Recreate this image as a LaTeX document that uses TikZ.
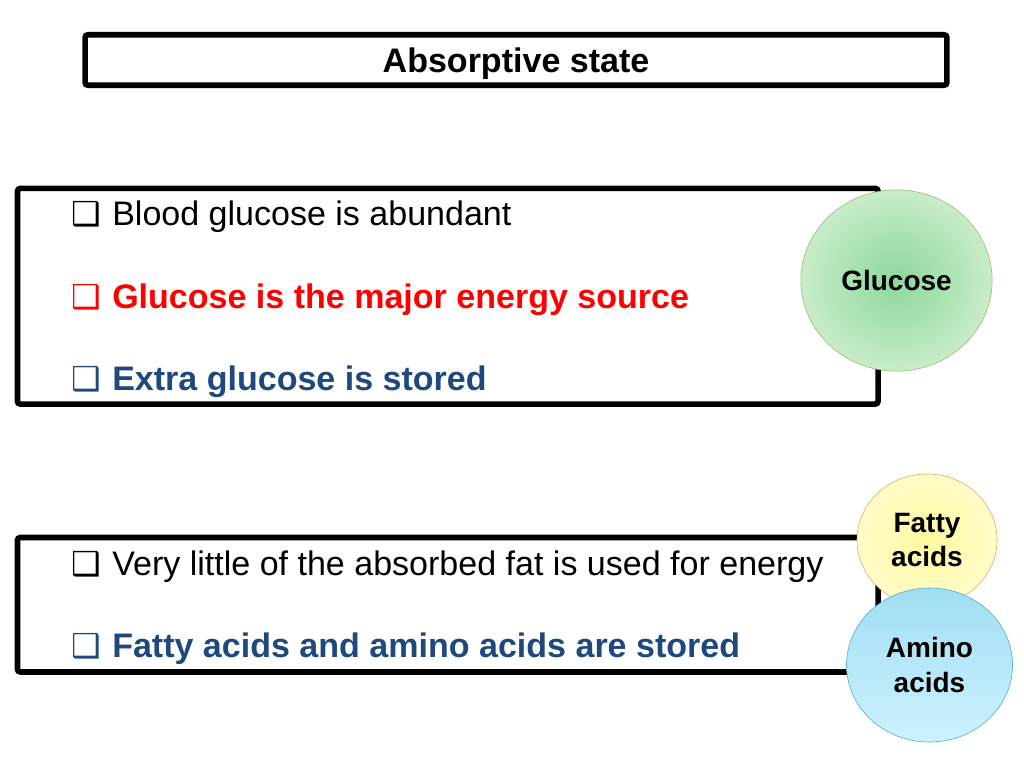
\documentclass[tikz,border=0pt]{standalone}
\usepackage{fontspec}
\setmainfont{Liberation Sans}
\newfontfamily\symfont{DejaVu Sans}
\usetikzlibrary{shapes.geometric}
\definecolor{bulletred}{RGB}{255,0,0}
\definecolor{bulletblue}{RGB}{31,73,125}
\newcommand{\chkbox}{\makebox[26.3pt][l]{\hspace*{-2.5pt}\symfont\fontsize{23.5pt}{23.5pt}\selectfont ❑}}
\tikzset{
  framebox/.style={draw=black, line width=4pt, rounded corners=2pt, minimum width=21.51cm},
  itemline/.style={anchor=base west, inner sep=0pt, font=\fontsize{24.2pt}{29pt}\selectfont},
  blob/.style={ellipse, align=center, inner sep=0pt, font=\bfseries\fontsize{19.9pt}{24.5pt}\selectfont}
}
\begin{document}
\begin{tikzpicture}[x=0.025cm, y=-0.025cm]
\useasboundingbox (0,0) rectangle (1024,768);
\node[framebox, minimum width=21.54cm, minimum height=1.26cm, text depth=0pt,
  font=\bfseries\fontsize{24.2pt}{29pt}\selectfont] (TITLE) at (516,60) {Absorptive state};
%
\node[framebox, minimum height=5.39cm] (BOX1) at (447.75,296.25) {};
\node[itemline] (BG) at (75,225) {\chkbox Blood glucose is abundant};
\node[itemline, text=bulletred, font=\bfseries\fontsize{24.2pt}{29pt}\selectfont] (GES) at (75,308) {\chkbox Glucose is the major energy source};
\node[itemline, text=bulletblue, font=\bfseries\fontsize{24.2pt}{29pt}\selectfont] (EGS) at (75,390) {\chkbox Extra glucose is stored};
%
\node[blob, draw={rgb,255:red,150;green,185;blue,100}, inner color={rgb,255:red,140;green,216;blue,158},
  outer color={rgb,255:red,200;green,236;blue,200}, minimum width=4.78cm, minimum height=4.53cm] (GLC) at (896.5,280.5) {Glucose};
%
\node[framebox, minimum height=3.36cm] (BOX2) at (447.75,604.75) {};
\node[itemline] (LF) at (75,575) {\chkbox Very little of the absorbed fat is used for energy};
\node[itemline, text=bulletblue, font=\bfseries\fontsize{24.2pt}{29pt}\selectfont] (FAS) at (75,657) {\chkbox Fatty acids and amino acids are stored};
%
\node[blob, draw={rgb,255:red,235;green,165;blue,85}, inner color={rgb,255:red,255;green,248;blue,160},
  outer color={rgb,255:red,255;green,252;blue,200}, minimum width=3.5cm, minimum height=3.3cm] (FA) at (927,540) {Fatty\\acids};
%
\node[blob, draw={rgb,255:red,75;green,172;blue,198}, top color={rgb,255:red,160;green,222;blue,242},
  bottom color={rgb,255:red,205;green,242;blue,255}, minimum width=4.15cm, minimum height=3.85cm] (AA) at (929.5,665) {Amino\\acids};
\end{tikzpicture}
\end{document}
